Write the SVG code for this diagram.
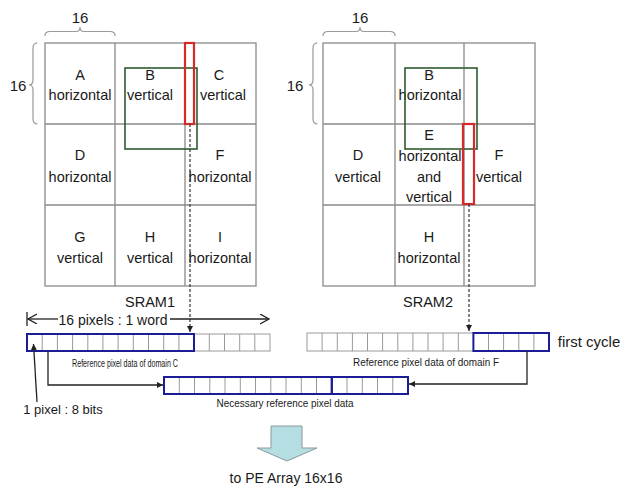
<svg xmlns="http://www.w3.org/2000/svg" width="620" height="487" viewBox="0 0 620 487">
<style>
.grid{fill:none;stroke:#8a8a8a;stroke-width:1.3}
.brace{fill:none;stroke:#999;stroke-width:1.2}
.green{fill:none;stroke:#2f5a2f;stroke-width:1.6}
.red{fill:none;stroke:#d42a2a;stroke-width:2.2}
.blue{fill:none;stroke:#1c1c96;stroke-width:2}
.cell{fill:#fff;stroke:#9a9a9a;stroke-width:1}
.div{fill:none;stroke:#9a9a9a;stroke-width:1}
.t{font-family:"Liberation Sans",Arial,sans-serif;font-size:14.5px;fill:#1a1a1a;text-anchor:middle}
.s{font-family:"Liberation Sans",Arial,sans-serif;font-size:10px;fill:#1a1a1a;text-anchor:middle}
.dash{fill:none;stroke:#333;stroke-width:1.2;stroke-dasharray:3,2}
.line{fill:none;stroke:#222;stroke-width:1.3}
</style>
<defs>
<marker id="ah" markerWidth="8" markerHeight="8" refX="6" refY="3" orient="auto" markerUnits="userSpaceOnUse">
<path d="M0,0 L6,3 L0,6 Z" fill="#222"/>
</marker>
<marker id="oa" markerWidth="12" markerHeight="12" refX="9" refY="5" orient="auto" markerUnits="userSpaceOnUse">
<path d="M0,0 L9,5 L0,10" fill="none" stroke="#222" stroke-width="1.3"/>
</marker>
</defs>

<g id="sram1">
<rect class="grid" x="45" y="43" width="211" height="243"/>
<path class="grid" d="M115,43 V286 M185,43 V286 M45,124 H256 M45,205 H256"/>
<path class="brace" d="M45,36 Q45,31.5 50,31.5 L76,31.5 Q80,31.5 80,27 Q80,31.5 84,31.5 L110,31.5 Q115,31.5 115,36"/>
<text class="t" x="80" y="23" style="font-size:15px">16</text>
<path class="brace" d="M37.5,43 Q33,43 33,48 L33,80 Q33,85 29,85 Q33,85 33,90 L33,119 Q33,124 37.5,124"/>
<text class="t" x="18" y="91" style="font-size:15px">16</text>
<text class="t" x="80" y="80">A</text><text class="t" x="80" y="100">horizontal</text>
<text class="t" x="150" y="80">B</text><text class="t" x="150" y="100">vertical</text>
<text class="t" x="219" y="80">C</text><text class="t" x="223" y="100">vertical</text>
<text class="t" x="80" y="160">D</text><text class="t" x="80" y="182">horizontal</text>
<text class="t" x="220" y="160">F</text><text class="t" x="220" y="182">horizontal</text>
<text class="t" x="80" y="242">G</text><text class="t" x="80" y="263">vertical</text>
<text class="t" x="150" y="242">H</text><text class="t" x="150" y="263">vertical</text>
<text class="t" x="220" y="242">I</text><text class="t" x="220" y="263">horizontal</text>
<rect class="green" x="125" y="68" width="72" height="81"/>
<rect class="red" x="185" y="43" width="9" height="81"/>
<text class="t" x="150" y="307">SRAM1</text>
</g>

<g id="sram2">
<rect class="grid" x="323" y="43" width="212" height="243"/>
<path class="grid" d="M395,43 V286 M464,43 V286 M323,124 H535 M323,205 H535"/>
<path class="brace" d="M323,36 Q323,31.5 328,31.5 L356,31.5 Q360,31.5 360,27 Q360,31.5 364,31.5 L390,31.5 Q395,31.5 395,36"/>
<text class="t" x="360" y="23" style="font-size:15px">16</text>
<path class="brace" d="M317.5,43 Q313,43 313,48 L313,80 Q313,85 309,85 Q313,85 313,90 L313,119 Q313,124 317.5,124"/>
<text class="t" x="295" y="91" style="font-size:15px">16</text>
<text class="t" x="429" y="80">B</text><text class="t" x="430" y="100">horizontal</text>
<text class="t" x="429" y="140">E</text><text class="t" x="430" y="161">horizontal</text>
<text class="t" x="429" y="182">and</text><text class="t" x="429" y="202">vertical</text>
<text class="t" x="358" y="160">D</text><text class="t" x="358" y="182">vertical</text>
<text class="t" x="499" y="160">F</text><text class="t" x="499" y="182">vertical</text>
<text class="t" x="429" y="242">H</text><text class="t" x="429" y="263">horizontal</text>
<rect class="green" x="405" y="68" width="72" height="81"/>
<rect class="red" x="463" y="124" width="11" height="80"/>
<text class="t" x="428" y="307">SRAM2</text>
</g>

<g id="word1">
<rect class="cell" x="27" y="334" width="243" height="17"/>
<path class="div" d="M42.2,334V351M57.4,334V351M72.6,334V351M87.8,334V351M102.9,334V351M118.1,334V351M133.3,334V351M148.5,334V351M163.7,334V351M178.9,334V351M209.3,334V351M224.5,334V351M239.7,334V351M254.8,334V351"/>
<rect class="blue" x="27" y="334" width="167" height="17"/>
<text class="s" x="125" y="367" textLength="106" lengthAdjust="spacingAndGlyphs">Reference pixel data of domain C</text>
</g>

<g id="word2">
<rect class="cell" x="307" y="333" width="242" height="18"/>
<path class="div" d="M322.1,333V351M337.3,333V351M352.4,333V351M367.5,333V351M382.6,333V351M397.8,333V351M412.9,333V351M428,333V351M443.1,333V351M458.3,333V351M488.5,333V351M503.6,333V351M518.8,333V351M533.9,333V351"/>
<rect class="blue" x="473.4" y="333" width="75.6" height="18"/>
<text class="s" x="426" y="366" textLength="146" lengthAdjust="spacingAndGlyphs">Reference pixel data of domain F</text>
<text class="t" x="589" y="347" style="font-size:15px">first cycle</text>
</g>

<g id="necessary">
<rect class="cell" x="164" y="377" width="244" height="17"/>
<path class="div" d="M179.3,377V394M194.5,377V394M209.8,377V394M225,377V394M240.3,377V394M255.5,377V394M270.8,377V394M286,377V394M301.3,377V394M316.5,377V394M347,377V394M362.3,377V394M377.5,377V394M392.8,377V394"/>
<rect class="blue" x="164" y="377" width="167.8" height="17"/>
<rect class="blue" x="331.8" y="377" width="76.2" height="17"/>
<text class="s" x="285" y="407" textLength="137" lengthAdjust="spacingAndGlyphs">Necessary reference pixel data</text>
</g>

<g id="pe-array">
<polygon points="271,426 302,426 302,448 317,448 287,461 257,448 271,448" fill="#b5dee2" stroke="#8a9a9c" stroke-width="1"/>
<text class="t" x="286" y="483" style="font-size:14px">to PE Array 16x16</text>
</g>

<g id="labels">
<text class="t" x="113" y="325" style="font-size:14px">16 pixels : 1 word</text>
<text class="t" x="63" y="414" style="font-size:13px">1 pixel : 8 bits</text>
</g>

<g id="connectors">
<path class="dash" d="M190,124 V332" marker-end="url(#ah)"/>
<path class="dash" d="M469,204 V331" marker-end="url(#ah)"/>
<path class="line" d="M48,351 V385 H163" marker-end="url(#ah)"/>
<path class="line" d="M527,351 V384 H409" marker-end="url(#ah)"/>
<path class="line" d="M37,402 L33.5,344" marker-end="url(#ah)"/>
<path class="line" d="M58,319 H28" marker-end="url(#oa)"/>
<path class="line" d="M170,319 H269" marker-end="url(#oa)"/>
<path class="line" d="M27,312 V326"/>
</g>
</svg>
